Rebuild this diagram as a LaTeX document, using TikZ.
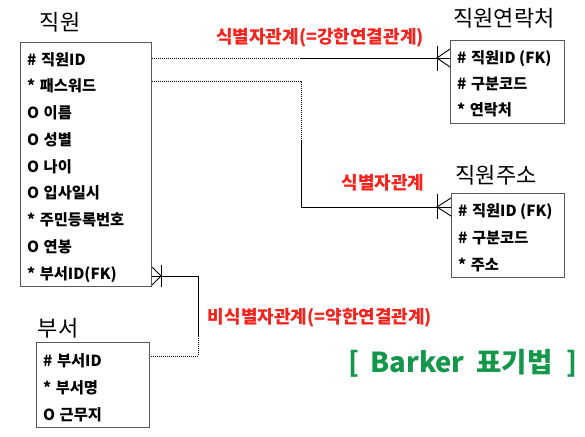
\documentclass[tikz,border=0pt]{standalone}
\usepackage{fontspec}
\setmainfont{Noto Sans CJK KR}
\usetikzlibrary{calc}
\definecolor{relred}{RGB}{245,35,30}
\definecolor{barkgreen}{RGB}{20,150,75}
\begin{document}
\begin{tikzpicture}[x=1pt,y=-1pt,
  ebox/.style={draw=black!65, line width=1pt, anchor=north west, inner sep=0pt},
  attr/.style={anchor=west, font=\fontsize{15.3}{17}\selectfont\bfseries, inner sep=0pt},
  etitle/.style={anchor=center, font=\fontsize{22}{26}\selectfont, inner sep=0pt},
  rel/.style={text=relred, font=\fontsize{18}{21}\selectfont\bfseries, inner sep=0pt, anchor=center},
  dotline/.style={line width=0.9pt, dash pattern=on 1pt off 1pt},
  conn/.style={line width=0.9pt, black},
]
\useasboundingbox (0,0) rectangle (585,436);
% entity boxes
\node[ebox, minimum width=131pt, minimum height=244pt] (emp) at (20,42) {};
\node[ebox, minimum width=114pt, minimum height=83pt] (con) at (450,40) {};
\node[ebox, minimum width=113pt, minimum height=84pt] (adr) at (451,193) {};
\node[ebox, minimum width=113pt, minimum height=85pt] (dep) at (36,342) {};
% titles
\node[etitle] (empT) at (60,22) {직원};
\node[etitle] (conT) at (504,18) {직원연락처};
\node[etitle] (adrT) at (496,175) {직원주소};
\node[etitle] (depT) at (58,328) {부서};
% employee attributes
\node[attr] (e1) at (27,60) {\#\hspace{1pt} 직원ID};
\node[attr] (e2) at (27,86) {*\hspace{1pt} 패스워드};
\node[attr] (e3) at (27,113) {O\hspace{1pt} 이름};
\node[attr] (e4) at (27,140) {O\hspace{1pt} 성별};
\node[attr] (e5) at (27,167) {O\hspace{1pt} 나이};
\node[attr] (e6) at (27,193) {O\hspace{1pt} 입사일시};
\node[attr] (e7) at (27,220) {*\hspace{1pt} 주민등록번호};
\node[attr] (e8) at (27,247) {O\hspace{1pt} 연봉};
\node[attr] (e9) at (27,275) {*\hspace{1pt} 부서ID(FK)};
% contact attributes
\node[attr] (c1) at (457,59) {\#\hspace{1pt} 직원ID (FK)};
\node[attr] (c2) at (457,84) {\#\hspace{1pt} 구분코드};
\node[attr] (c3) at (457,110) {*\hspace{1pt} 연락처};
% address attributes
\node[attr] (a1) at (458,212) {\#\hspace{1pt} 직원ID (FK)};
\node[attr] (a2) at (458,238) {\#\hspace{1pt} 구분코드};
\node[attr] (a3) at (458,265) {*\hspace{1pt} 주소};
% department attributes
\node[attr] (d1) at (43,361) {\#\hspace{1pt} 부서ID};
\node[attr] (d2) at (43,388) {*\hspace{1pt} 부서명};
\node[attr] (d3) at (43,415) {O\hspace{1pt} 근무지};
% relationship labels
\node[rel] (r1) at (320,38) {식별자관계(=강한연결관계)};
\node[rel] (r2) at (383,183) {식별자관계};
\node[rel] (r3) at (320,318) {비식별자관계(=약한연결관계)};
\node[text=barkgreen, font=\fontsize{27.5}{30}\selectfont\bfseries, inner sep=0pt] (bk) at (463,363) {[\hspace{11pt}Barker\hspace{12pt}표기법\hspace{14pt}]};
% helper coordinates
\coordinate (p1s) at (emp.east |- 0,58);
\coordinate (p1m) at (300,58);
\coordinate (p1e) at (con.west |- 0,58);
\coordinate (p2s) at (emp.east |- 0,81);
\coordinate (p2c) at (301,81);
\coordinate (p2m) at (301,140);
\coordinate (p2d) at (301,207);
\coordinate (p2e) at (adr.west |- 0,207);
\coordinate (p3s) at (emp.east |- 0,276);
\coordinate (p3c) at (198,276);
\coordinate (p3m) at (198,336);
\coordinate (p3d) at (198,356);
\coordinate (p3e) at (dep.east |- 0,356);
% identifying relation 1
\draw[dotline] (p1s) -- (p1m);
\draw[conn] (p1m) -- (p1e);
\draw[conn] ($(p1e)+(-13,-12)$) -- ($(p1e)+(-13,13)$);
\draw[conn] ($(p1e)+(0,-9)$) -- ($(p1e)+(-13,0)$) -- ($(p1e)+(0,9)$);
% identifying relation 2
\draw[dotline] (p2s) -- (p2c) -- (p2m);
\draw[conn] (p2m) -- (p2d) -- (p2e);
\draw[conn] ($(p2e)+(-14,-13)$) -- ($(p2e)+(-14,12)$);
\draw[conn] ($(p2e)+(0,-9)$) -- ($(p2e)+(-14,0)$) -- ($(p2e)+(0,9)$);
% non-identifying relation
\draw[conn] (p3s) -- (p3c) -- (p3m);
\draw[dotline] (p3m) -- (p3d) -- (p3e);
\draw[conn] ($(p3s)+(9,-11)$) -- ($(p3s)+(9,11)$);
\draw[conn] ($(p3s)+(0,-9)$) -- ($(p3s)+(9,0)$) -- ($(p3s)+(0,9)$);
\end{tikzpicture}
\end{document}
